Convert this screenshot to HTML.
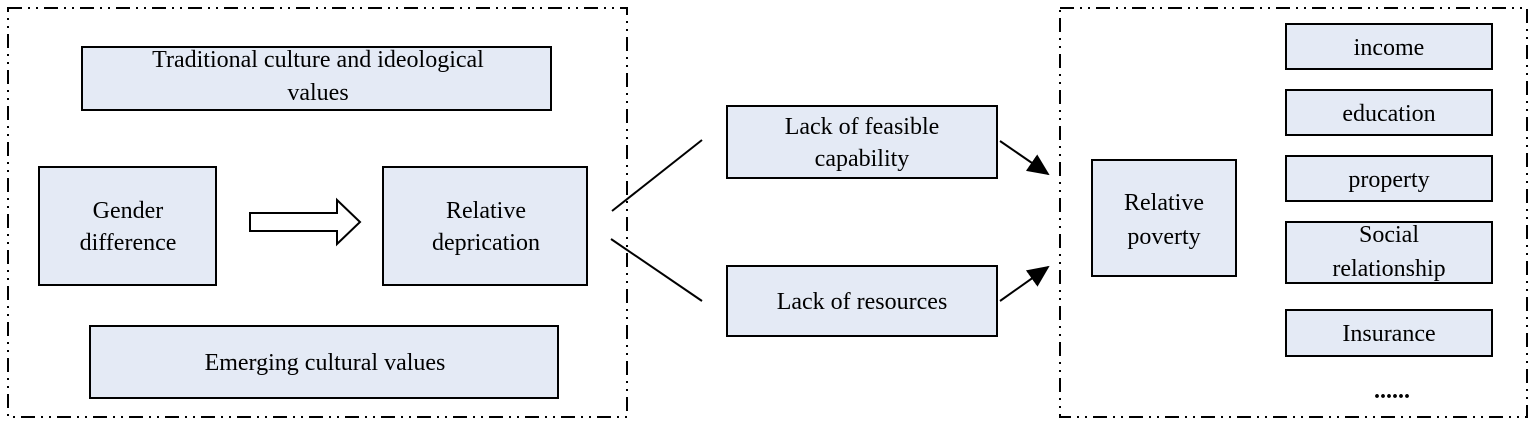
<!DOCTYPE html>
<html><head><meta charset="utf-8"><style>html,body{margin:0;padding:0;background:#fff;}svg{display:block}</style></head>
<body>
<svg width="1535" height="425" viewBox="0 0 1535 425" xmlns="http://www.w3.org/2000/svg" font-family="'Liberation Serif', serif" font-size="24" text-anchor="middle" fill="#000">
<defs><marker id="ah" markerWidth="10" markerHeight="10" refX="9" refY="5" orient="auto" markerUnits="userSpaceOnUse" viewBox="0 0 10 10"><path d="M0,0 L10,5 L0,10 z" fill="#000"/></marker>
<marker id="ah2" markerWidth="22" markerHeight="20" refX="20" refY="10" orient="auto" markerUnits="userSpaceOnUse" viewBox="0 0 22 20"><path d="M0,0 L22,10 L0,20 z" fill="#000"/></marker></defs>
<g fill="none" stroke="#000" stroke-width="2" stroke-dasharray="14 6 2 6 2 6">
<rect x="8" y="8" width="619" height="409"/>
<rect x="1060" y="8" width="467" height="409"/>
</g>
<g fill="#e4eaf5" stroke="#000" stroke-width="2">
<rect x="82" y="47" width="469" height="63"/>
<rect x="39" y="167" width="177" height="118"/>
<rect x="383" y="167" width="204" height="118"/>
<rect x="90" y="326" width="468" height="72"/>
<rect x="727" y="106" width="270" height="72"/>
<rect x="727" y="266" width="270" height="70"/>
<rect x="1092" y="160" width="144" height="116"/>
<rect x="1286" y="24" width="206" height="45"/>
<rect x="1286" y="90" width="206" height="45"/>
<rect x="1286" y="156" width="206" height="45"/>
<rect x="1286" y="222" width="206" height="61"/>
<rect x="1286" y="310" width="206" height="46"/>
</g>
<path d="M250,213 L337,213 L337,200 L360,222 L337,244 L337,231 L250,231 Z" fill="#fff" stroke="#000" stroke-width="2"/>
<g stroke="#000" stroke-width="2">
<line x1="612" y1="211" x2="702" y2="140"/>
<line x1="611" y1="239" x2="702" y2="301"/>
<line x1="1000" y1="141" x2="1048" y2="174" marker-end="url(#ah2)"/>
<line x1="1000" y1="301" x2="1048" y2="267" marker-end="url(#ah2)"/>
</g>
<text x="318" y="67">Traditional culture and ideological</text>
<text x="318" y="100">values</text>
<text x="128" y="218">Gender</text>
<text x="128" y="250">difference</text>
<text x="486" y="218">Relative</text>
<text x="486" y="250">deprication</text>
<text x="325" y="370">Emerging cultural values</text>
<text x="862" y="134">Lack of feasible</text>
<text x="862" y="166">capability</text>
<text x="862" y="309">Lack of resources</text>
<text x="1164" y="210">Relative</text>
<text x="1164" y="244">poverty</text>
<text x="1389" y="55">income</text>
<text x="1389" y="121">education</text>
<text x="1389" y="187">property</text>
<text x="1389" y="242">Social</text>
<text x="1389" y="276">relationship</text>
<text x="1389" y="341">Insurance</text>
<text x="1392" y="398" font-weight="bold">......</text>
</svg>
</body></html>
